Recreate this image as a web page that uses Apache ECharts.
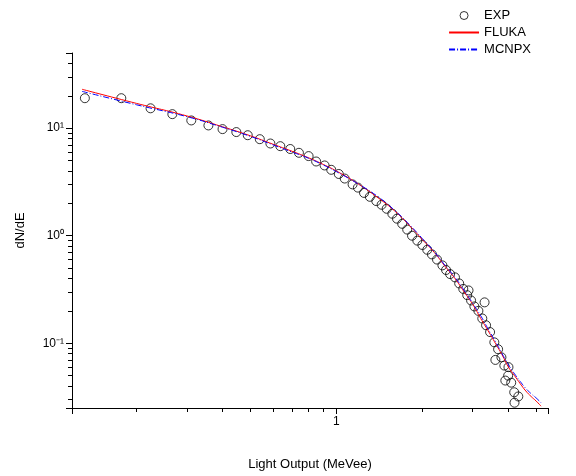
<!DOCTYPE html>
<html><head><meta charset="utf-8">
<script src="https://cdn.jsdelivr.net/npm/echarts@6/dist/echarts.min.js"></script>
<style>html,body{margin:0;background:#fff}#c{width:576px;height:476px}</style>
</head><body><div id="c"></div>
<script>
var expE = [0.132,0.177,0.224,0.267,0.311,0.357,0.40,0.447,0.49,0.54,0.588,0.637,0.69,0.74,0.80,0.85,0.91,0.96,1.02,1.07,1.14,1.19,1.25,1.31,1.38,1.44,1.5,1.57,1.63,1.7,1.77,1.84,1.92,2.0,2.08,2.16,2.25,2.35,2.42,2.5,2.6,2.69,2.78,2.87,2.96,3.04,3.14,3.24,3.34,3.45,3.57,3.68,3.78,3.87,3.99,4.09,4.19,4.33,3.6,3.9,4.2,4.0,3.3,2.9];
var expV = [19,19,15.3,13.5,11.8,10.6,9.8,9.2,8.6,7.9,7.2,6.8,6.4,5.9,5.5,4.9,4.5,4.1,3.75,3.4,3.0,2.8,2.5,2.3,2.1,1.94,1.78,1.6,1.44,1.29,1.14,1.0,0.9,0.82,0.74,0.67,0.6,0.53,0.48,0.44,0.41,0.36,0.32,0.28,0.25,0.22,0.2,0.17,0.147,0.127,0.102,0.088,0.074,0.062,0.05,0.043,0.035,0.032,0.07,0.045,0.028,0.06,0.24,0.31];
var flukaE = [0.129,0.2,0.3,0.4,0.5,0.6,0.7,0.8,0.9,1.0,1.2,1.4,1.6,1.8,2.0,2.2,2.4,2.6,2.8,3.0,3.2,3.4,3.6,3.8,4.0,4.2,4.4,4.6,4.8,5.0,5.2];
var flukaV = [23,17,13,10.3,8.5,7.1,6.1,5.3,4.6,4.0,3.0,2.25,1.7,1.25,0.92,0.7,0.52,0.4,0.3,0.23,0.17,0.13,0.1,0.078,0.06,0.05,0.042,0.036,0.032,0.029,0.026];
var mcnpxE = [0.129,0.2,0.3,0.4,0.5,0.6,0.7,0.8,0.9,1.0,1.2,1.4,1.6,1.8,2.0,2.2,2.4,2.6,2.8,3.0,3.2,3.4,3.6,3.8,4.0,4.2,4.4,4.6,4.8,5.0,5.2];
var mcnpxV = [22,16.5,12.8,10.2,8.4,7.0,6.0,5.25,4.55,3.95,3.0,2.3,1.72,1.27,0.94,0.71,0.53,0.41,0.31,0.235,0.18,0.135,0.104,0.08,0.063,0.052,0.044,0.038,0.034,0.031,0.028];
function pairs(a,b){return a.map(function(x,i){return [x,b[i]];});}
var sup = {'0':'⁰','1':'¹','-1':'⁻¹'};
var chart = echarts.init(document.getElementById('c'));
chart.setOption({
  animation:false,
  textStyle:{fontFamily:'Liberation Sans, Arial'},
  legend:{orient:'vertical',right:40,top:4,itemGap:4,itemWidth:30,itemHeight:8,
    textStyle:{fontSize:13,color:'#000'},
    data:[{name:'EXP',itemStyle:{borderWidth:1}},
      {name:'FLUKA',itemStyle:{opacity:0}},
      {name:'MCNPX',itemStyle:{opacity:0}}]},
  grid:{left:72,right:28,top:53,bottom:65},
  xAxis:{type:'log',min:0.119,max:5.5,name:'Light Output (MeVee)',nameLocation:'middle',nameGap:50,
    nameTextStyle:{fontSize:13,color:'#000'},
    axisLine:{lineStyle:{color:'#000'}},
    axisTick:{length:6,lineStyle:{color:'#000'}},
    minorTick:{show:true,splitNumber:9,length:4,lineStyle:{color:'#000'}},
    axisLabel:{color:'#000',fontSize:12,showMinLabel:false,showMaxLabel:false,
      formatter:function(v){return Math.abs(v-1)<1e-6?'1':'';}},
    splitLine:{show:false}},
  yAxis:{type:'log',min:0.025,max:50,name:'dN/dE',nameLocation:'middle',nameGap:45,
    nameTextStyle:{fontSize:13,color:'#000'},
    axisLine:{show:true,lineStyle:{color:'#000'}},
    axisTick:{length:6,lineStyle:{color:'#000'}},
    minorTick:{show:true,splitNumber:9,length:4,lineStyle:{color:'#000'}},
    axisLabel:{color:'#000',fontSize:12,showMinLabel:false,showMaxLabel:false,
      formatter:function(v){var e=Math.round(Math.log10(v));return '10'+(sup[e]||'');}},
    splitLine:{show:false}},
  series:[
    {name:'EXP',type:'scatter',symbol:'circle',symbolSize:9,data:pairs(expE,expV),
      itemStyle:{color:'rgba(0,0,0,0)',borderColor:'#000',borderWidth:1}},
    {name:'FLUKA',type:'line',symbol:'none',smooth:true,data:pairs(flukaE,flukaV),
      lineStyle:{color:'#ff0000',width:1},itemStyle:{color:'#ff0000'}},
    {name:'MCNPX',type:'line',symbol:'none',smooth:true,data:pairs(mcnpxE,mcnpxV),
      lineStyle:{color:'#0000ff',width:1,type:[6,2,1,2]},itemStyle:{color:'#0000ff'}}
  ]
});
</script></body></html>
